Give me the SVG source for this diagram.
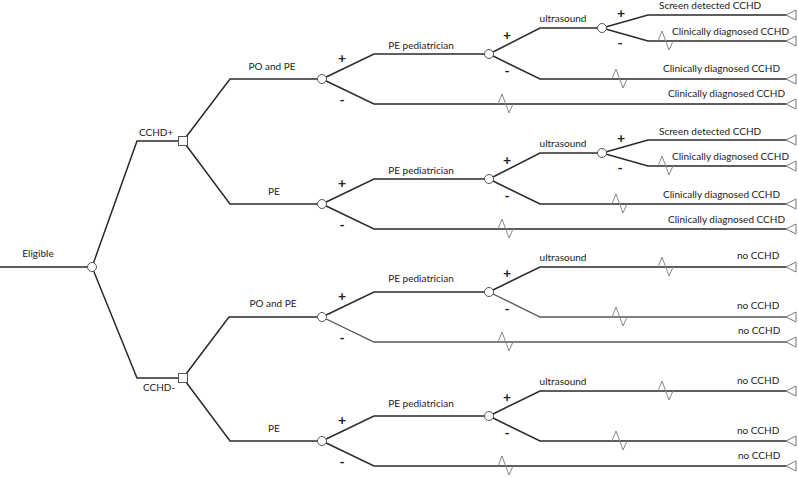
<svg xmlns="http://www.w3.org/2000/svg" width="798" height="478" viewBox="0 0 798 478">
<style>
text{font-family:Lato,"Liberation Sans",sans-serif;font-size:10px;fill:#222}
.s{font-weight:bold;font-size:14px;text-anchor:middle}
.m{text-anchor:middle}
.l{fill:none;stroke:#2a2a2a;stroke-width:1.5}
.g{fill:none;stroke:#555;stroke-width:1.3}
.z{fill:none;stroke:#888;stroke-width:1}
.t{fill:#fff;stroke:#777;stroke-width:1}
.c{fill:#fff;stroke:#555;stroke-width:1}
</style>
<rect width="798" height="478" fill="#fff"/>
<g id="connectors">
<path class="l" d="M0 267H92M92 267L137 141H183M92 267L137 378H183"/>
<path class="l" d="M183 141L230 79H322M183 141L230 204H322M183 378L229 317H322M183 378L230 441H322"/>
<!-- A -->
<path class="l" d="M322 79L374 54H489M322 79L374 104H786"/>
<path class="l" d="M489 54L540 28H602M489 54L540 79H786"/>
<path class="l" d="M602 28L648 15H786M602 28L648 41H786"/>
<!-- B -->
<path class="l" d="M322 204L374 179H489M322 204L374 229H786"/>
<path class="l" d="M489 179L540 153H602M489 179L540 204H786"/>
<path class="l" d="M602 153L648 140H786M602 153L648 166H786"/>
<!-- C -->
<path class="l" d="M322 317L374 292H489"/>
<path class="g" d="M322 317L374 342H786"/>
<path class="l" d="M489 292L540 267H786"/>
<path class="g" d="M489 292L540 317H786"/>
<!-- D -->
<path class="l" d="M322 441L374 416H489M322 441L374 466H786"/>
<path class="l" d="M489 416L540 391H786M489 416L540 441H786"/>
<!-- zigzags -->
<path class="z" d="M498 104l4 -10l7 19l4 -9M612 79l4 -10l7 19l4 -9M658 41l4 -10l7 19l4 -9"/>
<path class="z" d="M498 229l4 -10l7 19l4 -9M612 204l4 -10l7 19l4 -9M658 166l4 -10l7 19l4 -9"/>
<path class="z" d="M498 342l4 -10l7 19l4 -9M612 317l4 -10l7 19l4 -9M658 267l4 -10l7 19l4 -9"/>
<path class="z" d="M498 466l4 -10l7 19l4 -9M612 441l4 -10l7 19l4 -9M658 391l4 -10l7 19l4 -9"/>
</g>
<g id="root"><text x="38" y="257" class="m">Eligible</text><circle class="c" cx="92" cy="267" r="4.5"/></g>
<g id="cchd-pos"><text x="139" y="136">CCHD+</text><rect class="c" x="178.5" y="136.5" width="9" height="9"/></g>
<g id="cchd-neg"><text x="143" y="391">CCHD-</text><rect class="c" x="178.5" y="373.5" width="9" height="9"/></g>
<g id="A">
<text x="272" y="70" class="m">PO and PE</text>
<circle class="c" cx="322" cy="79" r="4.5"/>
<text x="342" y="63" class="s">+</text><text x="342" y="105" class="s">-</text>
<text x="421" y="49" class="m">PE pediatrician</text>
<circle class="c" cx="489" cy="54" r="4.5"/>
<text x="507" y="40" class="s">+</text><text x="507" y="76" class="s">-</text>
<text x="563" y="22" class="m">ultrasound</text>
<circle class="c" cx="602" cy="28" r="4.5"/>
<text x="621" y="18" class="s">+</text><text x="620" y="48" class="s">-</text>
<text x="659" y="9">Screen detected CCHD</text>
<text x="672" y="35">Clinically diagnosed CCHD</text>
<text x="663" y="72">Clinically diagnosed CCHD</text>
<text x="668" y="97">Clinically diagnosed CCHD</text>
<path class="t" d="M786 15L796 10V20ZM786 41L796 36V46ZM786 79L796 74V84ZM786 104L796 99V109Z"/>
</g>
<g id="B">
<text x="274" y="195" class="m">PE</text>
<circle class="c" cx="322" cy="204" r="4.5"/>
<text x="342" y="188" class="s">+</text><text x="342" y="230" class="s">-</text>
<text x="421" y="174" class="m">PE pediatrician</text>
<circle class="c" cx="489" cy="179" r="4.5"/>
<text x="507" y="165" class="s">+</text><text x="507" y="201" class="s">-</text>
<text x="563" y="147" class="m">ultrasound</text>
<circle class="c" cx="602" cy="153" r="4.5"/>
<text x="621" y="143" class="s">+</text><text x="620" y="173" class="s">-</text>
<text x="659" y="135">Screen detected CCHD</text>
<text x="672" y="160">Clinically diagnosed CCHD</text>
<text x="663" y="198">Clinically diagnosed CCHD</text>
<text x="668" y="223">Clinically diagnosed CCHD</text>
<path class="t" d="M786 140L796 135V145ZM786 166L796 161V171ZM786 204L796 199V209ZM786 229L796 224V234Z"/>
</g>
<g id="C">
<text x="273" y="307" class="m">PO and PE</text>
<circle class="c" cx="322" cy="317" r="4.5"/>
<text x="342" y="301" class="s">+</text><text x="342" y="343" class="s">-</text>
<text x="421" y="282" class="m">PE pediatrician</text>
<circle class="c" cx="489" cy="292" r="4.5"/>
<text x="507" y="278" class="s">+</text><text x="507" y="314" class="s">-</text>
<text x="563" y="261" class="m">ultrasound</text>
<text x="737" y="259">no CCHD</text>
<text x="737" y="309">no CCHD</text>
<text x="738" y="334">no CCHD</text>
<path class="t" d="M786 267L796 262V272ZM786 317L796 312V322ZM786 342L796 337V347Z"/>
</g>
<g id="D">
<text x="274" y="432" class="m">PE</text>
<circle class="c" cx="322" cy="441" r="4.5"/>
<text x="342" y="425" class="s">+</text><text x="342" y="467" class="s">-</text>
<text x="421" y="407" class="m">PE pediatrician</text>
<circle class="c" cx="489" cy="416" r="4.5"/>
<text x="507" y="402" class="s">+</text><text x="507" y="438" class="s">-</text>
<text x="563" y="385" class="m">ultrasound</text>
<text x="737" y="384">no CCHD</text>
<text x="737" y="434">no CCHD</text>
<text x="738" y="459">no CCHD</text>
<path class="t" d="M786 391L796 386V396ZM786 441L796 436V446ZM786 466L796 461V471Z"/>
</g>
</svg>
